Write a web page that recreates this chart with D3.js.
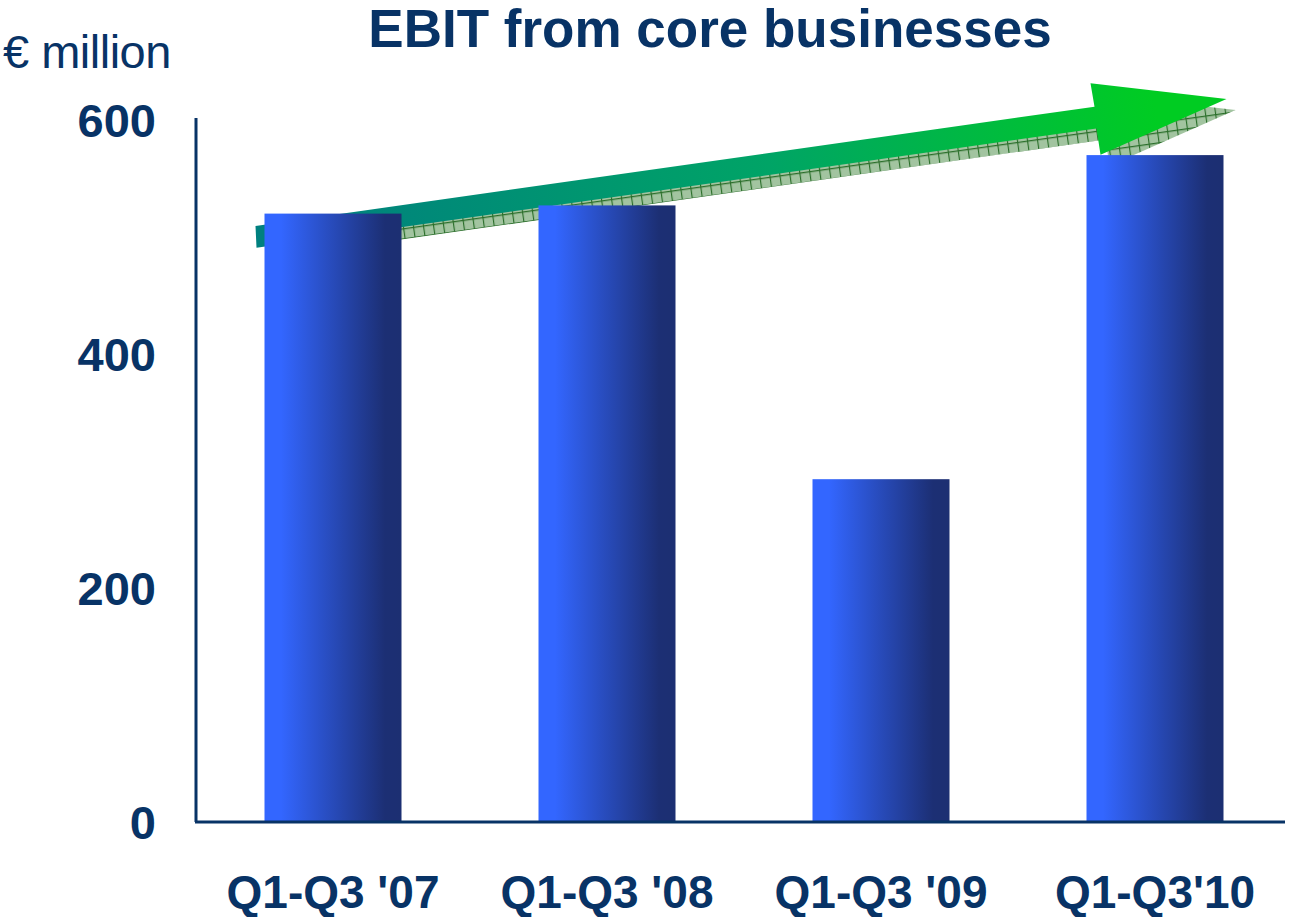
<!DOCTYPE html>
<html>
<head>
<meta charset="utf-8">
<script src="https://cdn.jsdelivr.net/npm/d3@7"></script>
<style>
	body { margin: 0; background: #fff; }
	text { font-family: "Liberation Sans", Arial, sans-serif; fill: #083366; }
</style>
</head>
<body>
<svg width="1295" height="917"></svg>
<script>
let categories = ["Q1-Q3 '07", "Q1-Q3 '08", "Q1-Q3 '09", "Q1-Q3'10"];
let ebit = [520, 527, 293, 570];
let y_ticks = [0, 200, 400, 600];

function draw_chart() {
	let svg = d3.select("svg");
	let ink = "#083366";

	let x = d3.scaleBand()
		.domain(categories)
		.range([196, 1292])
		.paddingInner(0.5)
		.paddingOuter(0.25);

	let y = d3.scaleLinear()
		.domain([0, 600])
		.range([822, 120]);

	let defs = svg.append("defs");

	let bar_grad = defs.append("linearGradient")
		.attr("id", "bar_grad")
		.attr("x1", "0%").attr("x2", "100%")
		.attr("y1", "0%").attr("y2", "0%");
	bar_grad.append("stop").attr("offset", "0%").attr("stop-color", "#3366ff");
	bar_grad.append("stop").attr("offset", "12%").attr("stop-color", "#3366ff");
	bar_grad.append("stop").attr("offset", "88%").attr("stop-color", "#1c2f74");
	bar_grad.append("stop").attr("offset", "100%").attr("stop-color", "#1c2f72");

	let arrow_grad = defs.append("linearGradient")
		.attr("id", "arrow_grad")
		.attr("gradientUnits", "userSpaceOnUse")
		.attr("x1", 300).attr("y1", 250)
		.attr("x2", 1150).attr("y2", 80);
	arrow_grad.append("stop").attr("offset", "0%").attr("stop-color", "#00807f");
	arrow_grad.append("stop").attr("offset", "55%").attr("stop-color", "#00a466");
	arrow_grad.append("stop").attr("offset", "100%").attr("stop-color", "#00cc22");

	let hatch = defs.append("pattern")
		.attr("id", "hatch")
		.attr("patternUnits", "userSpaceOnUse")
		.attr("width", 10).attr("height", 10)
		.attr("patternTransform", "rotate(-8)");
	hatch.append("rect").attr("width", 10).attr("height", 10).attr("fill", "#a2c4a0");
	hatch.append("path")
		.attr("d", "M 0.5 0 L 0.5 10 M 0 0.5 L 10 0.5")
		.attr("stroke", "#2a6e2a")
		.attr("stroke-width", 1.3);

	// trend arrow, anchored to the first and last bars
	let x0 = x(categories[0]) - 9;
	let x1 = x(categories[3]) + x.bandwidth() + 3;
	let y0 = y(500);
	let y1 = y(618);
	let sl = (y1 - y0) / (x1 - x0);
	let hx = x1 - 136;
	function ay(px) { return y0 + (px - x0) * sl; }
	let arrow_pts = [
		[x0, ay(x0) - 11],
		[hx + 4, ay(hx + 4) - 11],
		[hx, ay(hx) - 35],
		[x1, y1],
		[hx + 10, ay(hx + 10) + 38],
		[hx + 6, ay(hx + 6) + 11],
		[x0 + 1, ay(x0 + 1) + 11]
	];
	let line_gen = d3.line();

	svg.append("path")
		.attr("d", line_gen(arrow_pts) + "Z")
		.attr("transform", "translate(9,11)")
		.attr("fill", "url(#hatch)");

	svg.append("path")
		.attr("d", line_gen(arrow_pts) + "Z")
		.attr("fill", "url(#arrow_grad)");

	svg.selectAll(".bar")
		.data(ebit)
		.enter()
		.append("rect")
		.attr("class", "bar")
		.attr("x", function(d, i) { return x(categories[i]); })
		.attr("y", function(d) { return y(d); })
		.attr("width", x.bandwidth())
		.attr("height", function(d) { return y(0) - y(d); })
		.attr("fill", "url(#bar_grad)");

	// axes
	svg.append("line")
		.attr("x1", 196).attr("x2", 196)
		.attr("y1", 118).attr("y2", y(0))
		.attr("stroke", ink).attr("stroke-width", 3);
	svg.append("line")
		.attr("x1", 195).attr("x2", 1285)
		.attr("y1", y(0)).attr("y2", y(0))
		.attr("stroke", ink).attr("stroke-width", 3);

	svg.selectAll(".ytick")
		.data(y_ticks)
		.enter()
		.append("text")
		.attr("class", "ytick")
		.attr("x", 156)
		.attr("y", function(d) { return y(d); })
		.attr("dy", "0.36em")
		.attr("text-anchor", "end")
		.attr("font-weight", "bold")
		.attr("font-size", 47)
		.text(function(d) { return d; });

	svg.selectAll(".xtick")
		.data(categories)
		.enter()
		.append("text")
		.attr("class", "xtick")
		.attr("x", function(d) { return x(d) + x.bandwidth() / 2; })
		.attr("y", 908)
		.attr("text-anchor", "middle")
		.attr("font-weight", "bold")
		.attr("font-size", 46)
		.text(function(d) { return d; });

	svg.append("text")
		.attr("x", 710)
		.attr("y", 47)
		.attr("text-anchor", "middle")
		.attr("font-weight", "bold")
		.attr("font-size", 53)
		.text("EBIT from core businesses");

	svg.append("text")
		.attr("x", 3)
		.attr("y", 68)
		.attr("font-size", 47)
		.attr("letter-spacing", -0.5)
		.text("€ million");
}

draw_chart();
</script>
</body>
</html>
